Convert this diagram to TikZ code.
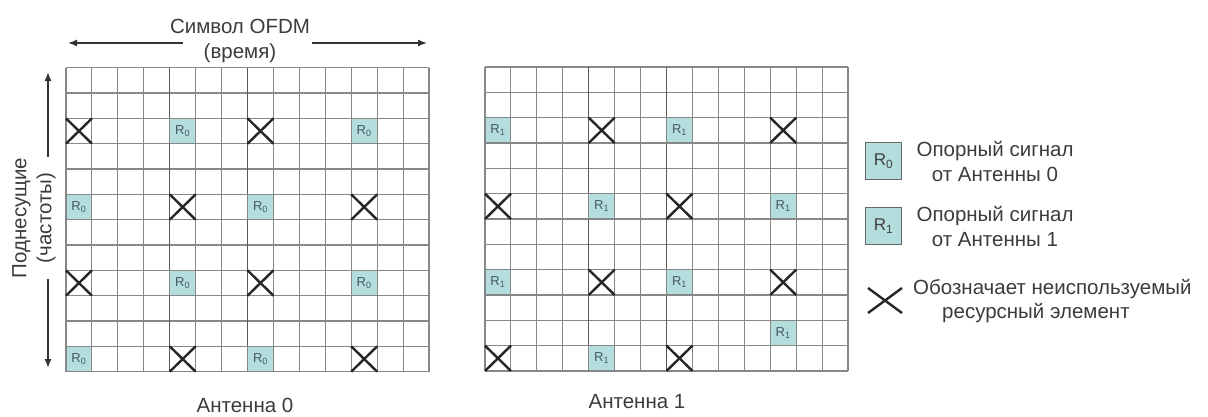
\documentclass[tikz,border=0pt]{standalone}
\usepackage{fontspec}
\setmainfont{Liberation Sans}
\usetikzlibrary{arrows.meta}
\definecolor{tealfill}{RGB}{180,221,221}
\definecolor{gridc}{RGB}{135,135,135}
\definecolor{rtext}{RGB}{70,90,100}
\definecolor{txt}{RGB}{60,60,60}
\tikzset{
  gridline/.style={draw=gridc, line width=1.1pt},
  darkline/.style={draw=black!65, line width=1.3pt},
  rcell/.style={fill=tealfill, draw=gridc, line width=1.1pt, minimum width=25.9pt, minimum height=25.3pt, inner sep=0pt, font=\fontsize{13}{13}\selectfont, text=rtext},
  legbox/.style={fill=tealfill, draw=black!60, line width=1.6pt, minimum width=36pt, minimum height=37pt, inner sep=0pt, font=\fontsize{17}{17}\selectfont, text=black!75},
  xmark/.style={line width=2.4pt, draw=black!85},
  lbl/.style={font=\fontsize{20.5}{25}\selectfont, text=txt, align=center, inner sep=0pt},
  arr/.style={line width=1.4pt, draw=black!80, -{Latex[length=9pt,width=7pt]}},
}
\begin{document}
\begin{tikzpicture}[x=1pt,y=-1pt]
\useasboundingbox[fill=white] (0,0) rectangle (1208,416);

% ---------- left grid (Antenna 0) ----------
\begin{scope}[shift={(66pt,-67.7pt)}, x=25.93pt, y=-25.33pt]
  \foreach \i in {0,...,14} \draw[gridline] (\i,0) -- (\i,12);
  \foreach \j in {0,...,12} \draw[gridline] (0,\j) -- (14,\j);
  \foreach \i in {4,7} \draw[darkline] (\i,0) -- (\i,12);
  \foreach \r in {2,8} {
    \foreach \c in {0,7} \draw[xmark] (\c,\r) -- (\c+1,\r+1) (\c+1,\r) -- (\c,\r+1);
    \foreach \c in {4,11} \node[rcell] (L-\c-\r) at (\c+0.5,\r+0.5) {R\textsubscript{0}};
  }
  \foreach \r in {5,11} {
    \foreach \c in {4,11} \draw[xmark] (\c,\r) -- (\c+1,\r+1) (\c+1,\r) -- (\c,\r+1);
    \foreach \c in {0,7} \node[rcell] (L-\c-\r) at (\c+0.5,\r+0.5) {R\textsubscript{0}};
  }
\end{scope}

% ---------- right grid (Antenna 1) ----------
\begin{scope}[shift={(485pt,-67pt)}, x=25.93pt, y=-25.33pt]
  \foreach \i in {0,...,14} \draw[gridline] (\i,0) -- (\i,12);
  \foreach \j in {0,...,12} \draw[gridline] (0,\j) -- (14,\j);
  \foreach \i in {4,7} \draw[darkline] (\i,0) -- (\i,12);
  \foreach \r in {2,8} {
    \foreach \c in {4,11} \draw[xmark] (\c,\r) -- (\c+1,\r+1) (\c+1,\r) -- (\c,\r+1);
    \foreach \c in {0,7} \node[rcell] (A-\c-\r) at (\c+0.5,\r+0.5) {R\textsubscript{1}};
  }
  \foreach \c in {0,7} \draw[xmark] (\c,5) -- (\c+1,6) (\c+1,5) -- (\c,6);
  \foreach \c in {4,11} \node[rcell] (A-\c-5) at (\c+0.5,5.5) {R\textsubscript{1}};
  \foreach \c in {0,7} \draw[xmark] (\c,11) -- (\c+1,12) (\c+1,11) -- (\c,12);
  \node[rcell] (A-4-11) at (4.5,11.5) {R\textsubscript{1}};
  \node[rcell] (A-11-10) at (11.5,10.5) {R\textsubscript{1}};
\end{scope}

% ---------- time axis ----------
\node[lbl] (sym) at (240,40.5) {Символ OFDM\\(время)};
\coordinate (tl) at (68,43);
\coordinate (tls) at (183,43);
\coordinate (tr) at (427,43);
\coordinate (trs) at (312,43);
\draw[arr] (tls) -- (tl);
\draw[arr] (trs) -- (tr);

% ---------- frequency axis ----------
\node[lbl, rotate=90] (sub) at (34,218) {Поднесущие\\(частоты)};
\coordinate (vt) at (48,72);
\coordinate (vts) at (48,157);
\coordinate (vb) at (48,368);
\coordinate (vbs) at (48,279);
\draw[arr] (vts) -- (vt);
\draw[arr] (vbs) -- (vb);

% ---------- antenna labels ----------
\node[lbl] (ant0) at (245,405) {Антенна 0};
\node[lbl] (ant1) at (637,402) {Антенна 1};

% ---------- legend ----------
\node[legbox] (lr0) at (883.5,161) {R\textsubscript{0}};
\node[lbl] (lt0) at (995,161) {Опорный сигнал\\от Антенны 0};
\node[legbox] (lr1) at (883.5,226) {R\textsubscript{1}};
\node[lbl] (lt1) at (995,226) {Опорный сигнал\\от Антенны 1};
\coordinate (lx1) at (868,288);
\coordinate (lx2) at (902,313);
\draw[xmark] (lx1) -- (lx2) (lx1 -| lx2) -- (lx1 |- lx2);
\node[lbl, anchor=west] (lx) at (913,289) {Обозначает неиспользуемый};
\node[lbl, anchor=west] (lx2t) at (942,313) {ресурсный элемент};
\end{tikzpicture}
\end{document}
